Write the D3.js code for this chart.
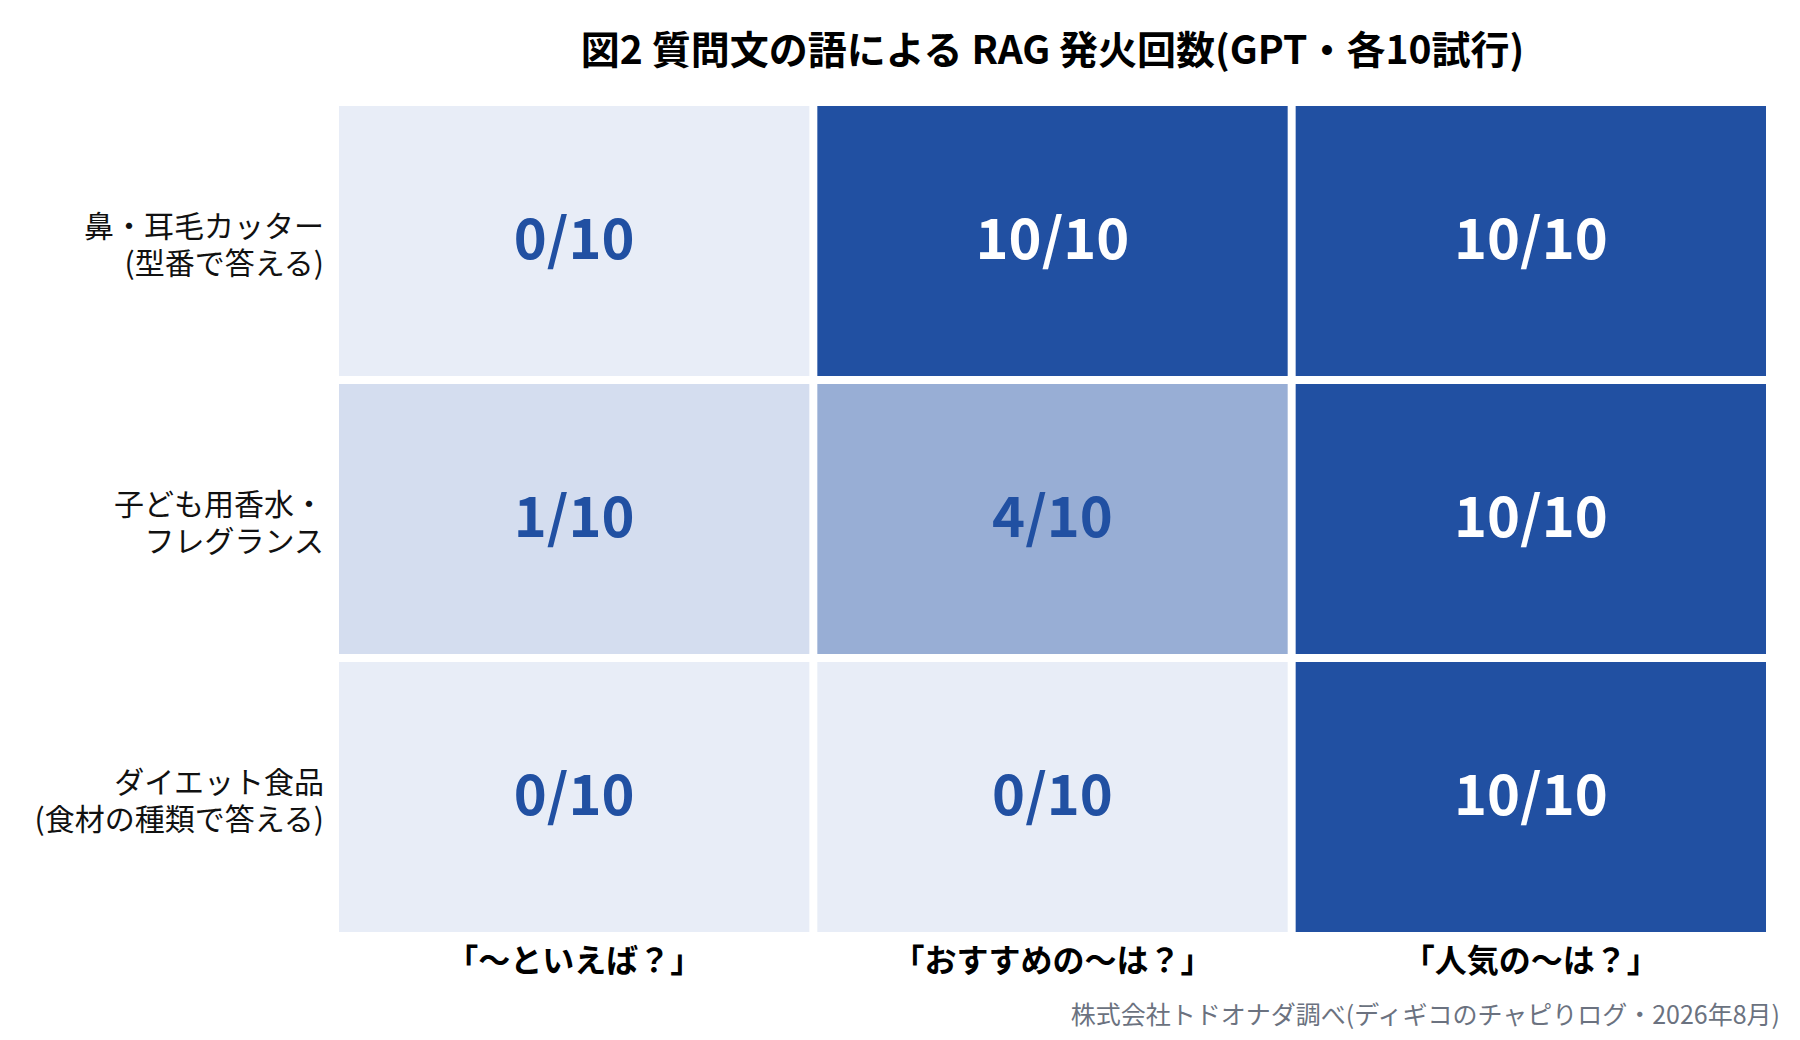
<!DOCTYPE html>
<html>
<head>
<meta charset="utf-8">
<script src="https://cdn.jsdelivr.net/npm/d3@7"></script>
<style>
	body { margin: 0; background: #fff; }
	svg { display: block; font-family: "Noto Sans CJK JP", "Noto Sans", sans-serif; }
</style>
</head>
<body>
<div class="heatmap"></div>
<script>
// chart data
const questions = ["「〜といえば？」", "「おすすめの〜は？」", "「人気の〜は？」"];
const topics = ["鼻・耳毛カッター\n(型番で答える)", "子ども用香水・\nフレグランス", "ダイエット食品\n(食材の種類で答える)"];
// RAG hits per topic (rows) and question (columns)
const hits = [
	[0, 10, 10],
	[1, 4, 10],
	[0, 0, 10]
];
const trials = 10;
const title = "図2 質問文の語による RAG 発火回数(GPT・各10試行)";
const source = "株式会社トドオナダ調べ(ディギコのチャピりログ・2026年8月)";

(function () {

	const widthSVG = 1800,
		heightSVG = 1040;

	const svg = d3.select(".heatmap").append("svg")
		.attr("width", widthSVG)
		.attr("height", heightSVG);

	const x = d3.scaleBand()
		.domain(questions)
		.range([339, 1766])
		.paddingInner(0.0167);

	const y = d3.scaleBand()
		.domain(topics)
		.range([106, 932])
		.paddingInner(0.0288);

	const color = d3.scaleLinear()
		.domain([0, trials])
		.range(["#e8edf7", "#2150a2"]);

	let cells = [];
	hits.forEach(function (row, i) {
		row.forEach(function (v, j) {
			cells.push({topic: topics[i], question: questions[j], value: v});
		});
	});

	const cell = svg.selectAll(".cell")
		.data(cells)
		.enter().append("g")
		.attr("class", "cell");

	cell.append("rect")
		.attr("x", function (d) { return x(d.question); })
		.attr("y", function (d) { return y(d.topic); })
		.attr("width", x.bandwidth())
		.attr("height", y.bandwidth())
		.attr("fill", function (d) { return color(d.value); });

	cell.append("text")
		.attr("x", function (d) { return x(d.question) + x.bandwidth() / 2; })
		.attr("y", function (d) { return y(d.topic) + y.bandwidth() / 2; })
		.attr("dy", "0.33em")
		.attr("text-anchor", "middle")
		.attr("font-size", 56)
		.attr("font-weight", "bold")
		.attr("fill", function (d) { return d.value >= trials / 2 ? "#ffffff" : "#2150a2"; })
		.text(function (d) { return d.value + "/" + trials; });

	// row labels, two lines each
	const rowLabel = svg.selectAll(".row-label")
		.data(topics)
		.enter().append("text")
		.attr("class", "row-label")
		.attr("text-anchor", "end")
		.attr("font-size", 30)
		.attr("fill", "#111");

	rowLabel.selectAll("tspan")
		.data(function (d) {
			return d.split("\n").map(function (t, k, arr) {
				return {text: t, k: k, n: arr.length, topic: d};
			});
		})
		.enter().append("tspan")
		.attr("x", 324)
		.attr("y", function (d) {
			return y(d.topic) + y.bandwidth() / 2 + 4 + (d.k - (d.n - 1) / 2) * 37;
		})
		.attr("dy", "0.35em")
		.text(function (d) { return d.text; });

	// column labels
	svg.selectAll(".col-label")
		.data(questions)
		.enter().append("text")
		.attr("class", "col-label")
		.attr("x", function (d) { return x(d) + x.bandwidth() / 2; })
		.attr("y", 961)
		.attr("dy", "0.35em")
		.attr("text-anchor", "middle")
		.attr("font-size", 32)
		.attr("font-weight", "bold")
		.attr("fill", "#000")
		.text(function (d) { return d; });

	svg.append("text")
		.attr("x", (x.range()[0] + x.range()[1]) / 2)
		.attr("y", 50)
		.attr("dy", "0.35em")
		.attr("text-anchor", "middle")
		.attr("font-size", 39)
		.attr("font-weight", "bold")
		.attr("fill", "#000")
		.text(title);

	svg.append("text")
		.attr("x", 1780)
		.attr("y", 1015)
		.attr("dy", "0.35em")
		.attr("text-anchor", "end")
		.attr("font-size", 25)
		.attr("fill", "#6b7280")
		.text(source);
}());
</script>
</body>
</html>
